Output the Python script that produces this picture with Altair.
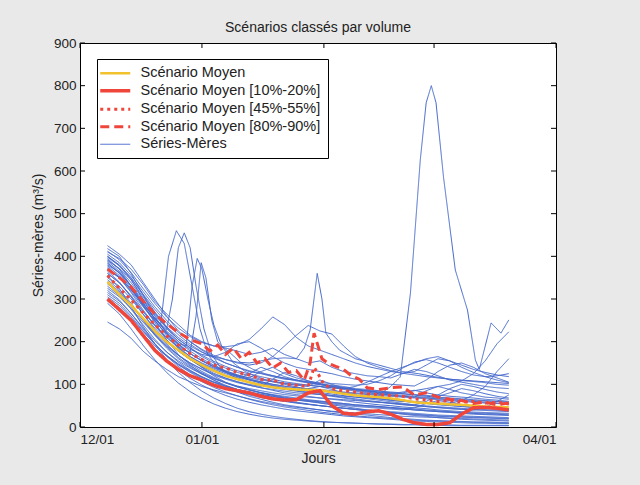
import altair as alt
import pandas as pd

# ---------------- data ----------------
grid_days = [7, 10, 13, 16, 19, 22, 25, 28, 31, 34, 37, 40, 43, 46, 49, 52, 55, 58,
             61, 64, 67, 70, 73, 76, 79, 82, 85, 88, 91, 94, 97, 100, 103, 106, 109]

mean_vals = [340, 310, 285, 255, 225, 200, 180, 160, 145, 132, 120, 112, 105, 98, 93, 90, 88, 87,
             86, 82, 78, 74, 72, 70, 67, 63, 58, 56, 55, 53, 52, 50, 48, 47, 46]
q10_20_vals = [300, 275, 250, 215, 180, 155, 135, 120, 110, 98, 90, 85, 80, 72, 66, 63, 64, 80,
               85, 50, 32, 30, 36, 38, 30, 18, 10, 6, 6, 10, 30, 45, 46, 44, 40]
q45_55_days = [7, 10, 13, 16, 19, 22, 25, 28, 31, 34, 37, 40, 43, 46, 49, 52, 55, 58, 59.5, 60.5,
               62, 64, 67, 70, 73, 76, 79, 82, 85, 88, 91, 94, 97, 100, 103, 106, 109]
q45_55_vals = [355, 325, 298, 268, 240, 214, 192, 172, 158, 145, 138, 128, 122, 112, 110, 100, 98, 95, 140, 125,
               100, 90, 85, 82, 78, 76, 74, 72, 66, 64, 60, 62, 58, 60, 56, 58, 54]
q80_90_days = [7, 10, 13, 16, 19, 22, 25, 28, 31, 33, 35, 37, 39, 41, 43, 45, 47, 49, 51, 53, 55, 57,
               58.5, 59.5, 60.5, 61.5, 63, 65, 67, 69, 71, 73, 76, 79, 82, 85, 88, 91, 94, 97, 100, 103, 106, 109]
q80_90_vals = [370, 350, 328, 295, 265, 242, 222, 205, 195, 178, 192, 170, 185, 160, 175, 150, 160, 138, 150, 128, 132, 110,
               150, 220, 190, 160, 150, 142, 135, 120, 112, 92, 88, 92, 94, 75, 80, 70, 65, 62, 55, 58, 52, 56]

s01 = [425, 405, 380, 340, 300, 260, 225, 200, 180, 165, 150, 140, 130, 125, 118, 112, 110, 105, 100, 98, 95, 90, 88, 85, 80, 78, 75, 72, 70, 68, 66, 64, 62, 60, 58]
s02 = [418, 400, 360, 310, 260, 220, 185, 160, 140, 120, 105, 95, 88, 80, 75, 70, 66, 62, 60, 58, 55, 52, 50, 48, 45, 43, 40, 38, 36, 35, 33, 32, 30, 30, 28]
s03 = [410, 395, 370, 335, 295, 265, 240, 215, 200, 190, 185, 178, 170, 175, 185, 170, 160, 150, 155, 140, 130, 125, 120, 118, 115, 125, 135, 130, 120, 110, 105, 100, 95, 92, 90]
s04 = [400, 380, 350, 310, 270, 235, 205, 185, 165, 150, 138, 128, 120, 112, 108, 102, 98, 95, 110, 100, 92, 88, 84, 80, 78, 82, 86, 80, 75, 72, 70, 68, 65, 63, 60]
s05 = [395, 370, 330, 285, 245, 205, 170, 145, 125, 110, 95, 82, 72, 65, 58, 52, 48, 44, 40, 36, 33, 30, 28, 25, 22, 20, 18, 16, 15, 14, 13, 12, 12, 11, 10]
s06 = [390, 372, 345, 305, 268, 232, 200, 178, 160, 145, 132, 122, 115, 130, 140, 125, 115, 108, 102, 96, 90, 86, 82, 78, 75, 72, 70, 85, 95, 88, 80, 75, 70, 68, 65]
s07 = [385, 360, 325, 285, 250, 215, 188, 165, 148, 135, 125, 115, 105, 98, 92, 88, 84, 80, 76, 72, 68, 64, 60, 58, 55, 52, 50, 48, 46, 44, 42, 40, 45, 60, 75]
s08 = [380, 362, 330, 292, 255, 222, 195, 172, 155, 140, 128, 118, 110, 104, 98, 92, 88, 90, 95, 88, 80, 75, 70, 66, 62, 60, 58, 55, 52, 50, 48, 46, 44, 42, 40]
s09 = [375, 350, 315, 275, 238, 205, 178, 158, 140, 126, 115, 106, 98, 92, 86, 80, 76, 72, 68, 65, 62, 58, 55, 52, 50, 47, 45, 43, 40, 38, 36, 35, 34, 33, 32]
s10 = [370, 352, 322, 288, 255, 225, 200, 182, 170, 165, 175, 195, 200, 185, 165, 150, 140, 135, 130, 125, 118, 112, 108, 104, 100, 98, 96, 110, 130, 145, 150, 140, 125, 115, 105]
s11 = [365, 340, 305, 265, 228, 195, 168, 148, 130, 116, 104, 94, 86, 80, 74, 68, 64, 60, 56, 52, 48, 44, 40, 37, 34, 30, 27, 25, 22, 20, 18, 17, 16, 15, 14]
s12 = [360, 338, 308, 272, 240, 210, 185, 165, 150, 138, 128, 120, 112, 106, 100, 95, 92, 88, 85, 82, 80, 78, 76, 74, 72, 70, 68, 66, 64, 62, 60, 58, 56, 55, 54]
s13 = [355, 325, 282, 236, 195, 158, 128, 104, 84, 68, 55, 44, 36, 30, 25, 21, 18, 15, 13, 11, 10, 9, 8, 7, 6, 5, 5, 4, 4, 3, 3, 3, 3, 3, 3]
s14 = [350, 330, 300, 265, 232, 202, 178, 158, 142, 130, 120, 112, 125, 140, 130, 118, 110, 104, 100, 96, 92, 88, 85, 82, 80, 78, 76, 74, 72, 80, 90, 85, 78, 72, 68]
s15 = [345, 322, 290, 252, 218, 188, 163, 143, 127, 114, 103, 94, 87, 81, 76, 72, 68, 64, 61, 58, 55, 52, 50, 48, 46, 44, 42, 40, 38, 36, 34, 33, 32, 31, 30]
s16 = [340, 318, 286, 250, 215, 185, 160, 140, 124, 110, 98, 88, 80, 73, 67, 62, 58, 54, 50, 47, 44, 41, 38, 36, 34, 32, 30, 28, 26, 25, 24, 23, 22, 21, 20]
s17 = [335, 315, 285, 252, 220, 192, 168, 150, 135, 122, 112, 104, 98, 92, 88, 84, 80, 78, 76, 74, 72, 70, 68, 66, 64, 62, 60, 58, 56, 55, 62, 75, 95, 130, 160]
s18 = [330, 308, 276, 240, 206, 176, 152, 133, 117, 104, 93, 84, 77, 71, 66, 61, 57, 53, 50, 47, 44, 42, 40, 38, 36, 34, 32, 30, 28, 27, 26, 25, 24, 23, 22]
s19 = [325, 305, 278, 246, 216, 190, 168, 150, 136, 124, 114, 106, 100, 95, 112, 128, 120, 108, 100, 94, 88, 84, 80, 77, 74, 72, 70, 68, 66, 64, 62, 60, 58, 56, 55]
s20 = [320, 298, 266, 230, 196, 166, 142, 122, 106, 93, 82, 73, 65, 58, 52, 47, 43, 39, 35, 32, 29, 26, 24, 22, 20, 18, 16, 15, 14, 13, 12, 11, 10, 10, 9]
s21 = [315, 295, 266, 233, 202, 176, 155, 138, 124, 113, 104, 96, 90, 85, 80, 76, 73, 70, 68, 66, 64, 62, 60, 58, 56, 54, 52, 60, 75, 90, 100, 95, 88, 82, 78]
s22 = [310, 290, 260, 226, 195, 168, 146, 128, 113, 100, 90, 82, 75, 69, 64, 60, 56, 53, 50, 47, 44, 41, 38, 35, 33, 31, 29, 27, 25, 24, 23, 22, 21, 20, 19]
s23 = [305, 285, 256, 224, 194, 168, 148, 132, 118, 106, 96, 88, 82, 76, 71, 67, 63, 60, 57, 54, 51, 48, 46, 44, 42, 40, 45, 55, 62, 58, 52, 48, 45, 42, 40]
s24 = [300, 280, 250, 216, 184, 156, 133, 114, 98, 85, 74, 65, 58, 52, 47, 42, 38, 35, 32, 29, 26, 24, 22, 20, 18, 16, 14, 13, 12, 11, 10, 9, 9, 8, 8]
s25 = [295, 275, 248, 218, 190, 166, 146, 130, 116, 105, 96, 88, 82, 77, 72, 68, 65, 62, 59, 56, 53, 50, 48, 46, 44, 42, 40, 38, 36, 34, 32, 30, 29, 28, 27]
s26 = [290, 265, 230, 192, 158, 128, 103, 83, 67, 54, 44, 36, 30, 25, 21, 18, 16, 14, 12, 11, 10, 9, 8, 7, 7, 6, 6, 5, 5, 5, 4, 4, 4, 4, 4]
s27 = [246, 230, 208, 178, 155, 135, 118, 106, 95, 87, 80, 73, 66, 60, 55, 50, 46, 43, 40, 37, 35, 33, 31, 29, 27, 25, 24, 23, 22, 21, 20, 19, 18, 17, 16]
s28 = [412, 392, 362, 325, 290, 258, 232, 212, 198, 190, 188, 192, 205, 230, 258, 240, 210, 190, 180, 170, 160, 150, 142, 136, 130, 126, 122, 118, 115, 112, 110, 108, 106, 104, 102]
s29 = [405, 385, 355, 318, 282, 250, 222, 200, 182, 168, 158, 150, 145, 150, 165, 190, 215, 238, 225, 218, 190, 165, 150, 140, 132, 126, 130, 145, 160, 155, 145, 135, 128, 122, 118]
s30 = [398, 378, 348, 312, 276, 244, 216, 194, 176, 162, 150, 140, 132, 126, 120, 115, 110, 106, 104, 102, 100, 98, 100, 108, 120, 138, 152, 158, 150, 140, 130, 122, 118, 120, 125]
s31 = [383, 362, 332, 296, 262, 232, 206, 186, 168, 154, 142, 132, 124, 118, 112, 106, 102, 98, 95, 92, 90, 88, 86, 84, 82, 80, 85, 90, 95, 100, 108, 125, 155, 195, 223]
s32 = [372, 350, 318, 282, 248, 218, 192, 172, 156, 142, 131, 122, 115, 110, 106, 103, 100, 98, 95, 92, 90, 95, 105, 118, 130, 140, 150, 160, 165, 155, 140, 128, 118, 110, 104]

grid_series = [s01, s02, s03, s04, s05, s06, s07, s08, s09, s10, s11, s12, s13, s14, s15, s16,
               s17, s18, s19, s20, s21, s22, s23, s24, s25, s26, s27, s28, s29, s30, s31, s32]

# series with their own sampling (floods)
sp1_days = [7, 10, 13, 16, 19, 22, 25, 28, 31, 34, 37, 40, 43, 46, 49, 52, 55, 58, 61, 64, 67, 70, 73, 76, 79,
            81.4, 84, 86.5, 88, 89.3, 90.5, 92.4, 95.4, 98.5, 100.5, 101.5, 104.5, 107, 109]
sp1_vals = [368, 350, 322, 290, 255, 222, 195, 172, 155, 142, 130, 120, 112, 106, 100, 96, 92, 90, 88, 85, 82, 80, 78, 75, 95,
            117, 314, 626, 760, 800, 760, 586, 368, 274, 157, 135, 244, 220, 251]
sp2_days = [7, 10, 13, 16, 19, 20.5, 22.5, 24.5, 26.5, 28.5, 30.5, 32.5, 35, 38, 41, 44, 47, 50, 55, 60,
            65, 70, 75, 80, 85, 90, 95, 100, 105, 109]
sp2_vals = [400, 378, 345, 300, 252, 240, 400, 460, 430, 330, 230, 170, 140, 125, 115, 108, 100, 95, 88, 82,
            76, 70, 64, 58, 52, 48, 45, 42, 40, 38]
sp3_days = [7, 10, 13, 16, 19, 22, 23.5, 25, 26.5, 28, 29.5, 31.5, 33.5, 36, 39, 42, 46, 50, 55, 60,
            65, 70, 75, 80, 85, 90, 95, 100, 105, 109]
sp3_vals = [388, 365, 330, 290, 255, 228, 300, 420, 455, 420, 330, 230, 170, 135, 118, 108, 100, 92, 85, 80,
            72, 66, 60, 55, 50, 46, 42, 40, 38, 36]
sp4_days = [7, 10, 13, 16, 19, 22, 25, 27, 28.5, 29.8, 31, 32.5, 34, 36, 38, 41, 44, 47, 50, 55,
            60, 65, 70, 75, 80, 85, 90, 95, 100, 105, 109]
sp4_vals = [378, 355, 322, 285, 250, 218, 195, 190, 330, 395, 370, 300, 240, 190, 175, 150, 135, 125, 118, 108,
            100, 94, 88, 82, 76, 72, 68, 65, 62, 60, 58]
sp5_days = [7, 10, 13, 16, 19, 22, 25, 28, 29.5, 30.8, 32, 33.5, 35, 37, 39, 42, 45, 48, 52, 56,
            60, 65, 70, 75, 80, 85, 90, 95, 100, 105, 109]
sp5_vals = [360, 338, 305, 270, 238, 210, 188, 175, 260, 385, 350, 250, 200, 178, 150, 130, 118, 108, 100, 92,
            86, 80, 74, 68, 62, 58, 54, 50, 46, 44, 42]
sp6_days = [7, 10, 13, 16, 19, 22, 25, 28, 31, 34, 37, 40, 43, 46, 49, 52, 55, 57, 58.5, 60.3, 61.5, 62.5,
            64, 66, 70, 74, 78, 82, 86, 90, 94, 98, 102, 106, 109]
sp6_vals = [392, 370, 338, 300, 265, 235, 210, 190, 175, 165, 158, 152, 150, 155, 160, 162, 160, 185, 227, 360, 300, 220,
            200, 180, 160, 150, 140, 130, 125, 118, 112, 108, 105, 100, 98]

special_series = [(sp1_days, sp1_vals), (sp2_days, sp2_vals), (sp3_days, sp3_vals),
                  (sp4_days, sp4_vals), (sp5_days, sp5_vals), (sp6_days, sp6_vals)]

kinds = ["Scénario Moyen", "Scénario Moyen [10%-20%]", "Scénario Moyen [45%-55%]",
         "Scénario Moyen [80%-90%]", "Séries-Mères"]
kind_colors = ["#f2c12e", "#f0453a", "#f0453a", "#f0453a", "#4468cc"]
kind_dashes = [[1, 0], [1, 0], [3, 4], [9, 5], [1, 0]]
kind_widths = [2.5, 3.5, 3.0, 3.0, 1.0]

x_tick_days = [0, 31, 62, 90, 121]
x_tick_labels = ["12/01", "01/01", "02/01", "03/01", "04/01"]
y_ticks = [0, 100, 200, 300, 400, 500, 600, 700, 800, 900]

# ---------------- tables ----------------
width_of = dict(zip(kinds, kind_widths))
blue_rows = []
sid = 0
for vals in grid_series:
    sid += 1
    for d, v in zip(grid_days, vals):
        blue_rows.append({"day": d, "value": v, "series": f"b{sid}", "kind": kinds[4], "w": width_of[kinds[4]]})
for ds, vs in special_series:
    sid += 1
    for d, v in zip(ds, vs):
        blue_rows.append({"day": d, "value": v, "series": f"b{sid}", "kind": kinds[4], "w": width_of[kinds[4]]})
blue_df = pd.DataFrame(blue_rows)

scen_rows = []
for k, ds, vs in [(kinds[0], grid_days, mean_vals), (kinds[1], grid_days, q10_20_vals),
                  (kinds[2], q45_55_days, q45_55_vals), (kinds[3], q80_90_days, q80_90_vals)]:
    for d, v in zip(ds, vs):
        scen_rows.append({"day": d, "value": v, "kind": k, "w": width_of[k]})
scen_df = pd.DataFrame(scen_rows)

xt_df = pd.DataFrame({"day": x_tick_days})
yt_df = pd.DataFrame({"value": y_ticks})

# ---------------- chart ----------------
W, H = 476, 384
FONT = "Liberation Sans"

label_expr = "".join(f"datum.value == {d} ? '{l}' : " for d, l in zip(x_tick_days, x_tick_labels)) + "''"
legend_w_expr = "".join(f"datum.value == '{k}' ? {w} : " for k, w in zip(kinds, kind_widths)) + "1"

xscale = alt.Scale(domain=[0, 121], nice=False, zero=False)
yscale = alt.Scale(domain=[0, 900], nice=False)
xaxis = alt.Axis(values=x_tick_days, labelExpr=label_expr, title="Jours", grid=False, ticks=False,
                 domain=False, labelPadding=5, titlePadding=6)
yaxis = alt.Axis(values=y_ticks, title="Séries-mères (m³/s)", grid=False, ticks=False, domain=False,
                 labelPadding=4, titlePadding=8)

legend = alt.Legend(title=None, orient="none", legendX=17, legendY=16, symbolType="stroke",
                    symbolSize=900, labelFontSize=14.5, labelFont=FONT, labelColor="#222",
                    strokeColor="black", fillColor="white", padding=7, labelLimit=400,
                    rowPadding=2.5, labelOffset=18, symbolOffset=4,
                    symbolStrokeWidth=alt.ExprRef(expr=legend_w_expr))

color_enc = alt.Color("kind:N", scale=alt.Scale(domain=kinds, range=kind_colors), legend=legend)
dash_enc = alt.StrokeDash("kind:N", scale=alt.Scale(domain=kinds, range=kind_dashes), legend=legend)
width_enc = alt.StrokeWidth("w:Q", scale=None)

X = alt.X("day:Q", scale=xscale, axis=xaxis)
Y = alt.Y("value:Q", scale=yscale, axis=yaxis)

blue = alt.Chart(blue_df).mark_line(clip=True).encode(
    x=X, y=Y, detail="series:N", color=color_enc, strokeDash=dash_enc, strokeWidth=width_enc)
scen = alt.Chart(scen_df).mark_line(clip=True).encode(
    x=X, y=Y, detail="kind:N", color=color_enc, strokeDash=dash_enc, strokeWidth=width_enc)

tick_b = alt.Chart(xt_df).mark_rule(color="black", strokeWidth=1).encode(
    x=X, y=alt.value(H), y2=alt.value(H - 5))
tick_t = alt.Chart(xt_df).mark_rule(color="black", strokeWidth=1).encode(
    x=X, y=alt.value(0), y2=alt.value(5))
tick_l = alt.Chart(yt_df).mark_rule(color="black", strokeWidth=1).encode(
    y=Y, x=alt.value(0), x2=alt.value(5))
tick_r = alt.Chart(yt_df).mark_rule(color="black", strokeWidth=1).encode(
    y=Y, x=alt.value(W), x2=alt.value(W - 5))

chart = alt.layer(blue, scen, tick_b, tick_t, tick_l, tick_r).properties(
    width=W, height=H,
    title=alt.Title("Scénarios classés par volume", fontSize=14, font=FONT, fontWeight="normal",
                    color="#222", offset=1, anchor="middle"),
    autosize=alt.AutoSizeParams(type="none"),
    padding={"left": 80, "top": 43, "right": 84, "bottom": 58},
    background="#e9e9e9",
).configure_view(
    stroke="black", strokeWidth=1, fill="white"
).configure_axis(
    labelFont=FONT, titleFont=FONT, labelFontSize=13.5, titleFontSize=14, labelColor="#222",
    titleColor="#222", titleFontWeight="normal"
)

chart.save("out.html", embed_options={"renderer": "svg", "actions": False})
